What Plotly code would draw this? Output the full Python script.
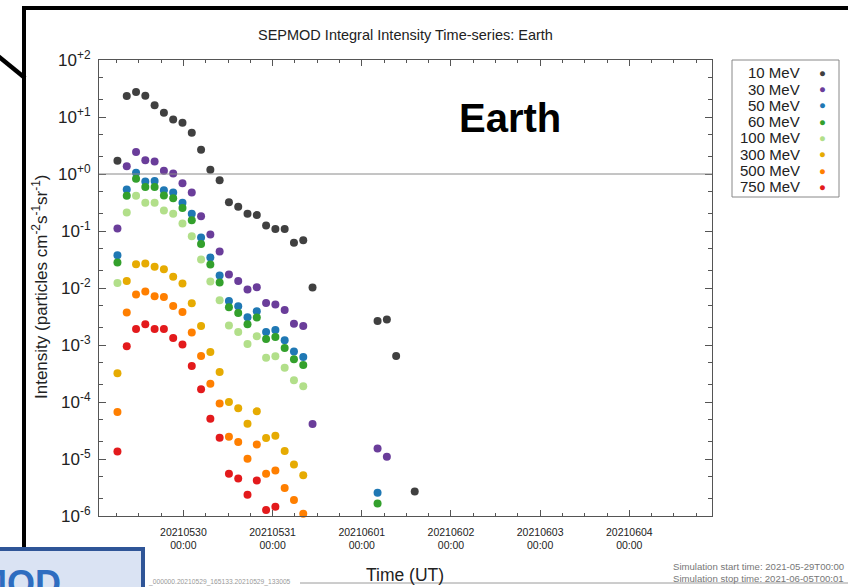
import plotly.graph_objects as go

# ---------------- data ----------------
TIMES = [
    "2021-05-29 06:15", "2021-05-29 08:45", "2021-05-29 11:15", "2021-05-29 13:45",
    "2021-05-29 16:15", "2021-05-29 18:45", "2021-05-29 21:15", "2021-05-29 23:45",
    "2021-05-30 02:15", "2021-05-30 04:45", "2021-05-30 07:15", "2021-05-30 09:45",
    "2021-05-30 12:15", "2021-05-30 14:45", "2021-05-30 17:15", "2021-05-30 19:45",
    "2021-05-30 22:15", "2021-05-31 00:45", "2021-05-31 03:15", "2021-05-31 05:45",
    "2021-05-31 08:15", "2021-05-31 10:45", "2021-05-31 13:15", "2021-05-31 15:45",
    "2021-05-31 18:15", "2021-05-31 20:45", "2021-05-31 23:15", "2021-06-01 01:45",
    "2021-06-01 04:15", "2021-06-01 06:45", "2021-06-01 09:15", "2021-06-01 11:45",
    "2021-06-01 14:15",
]

N = None
E10 = [1.71, 23.3, 27.4, 23.6, 16.0, 11.9, 9.08, 7.93, 5.29, 2.66, 1.19, 0.78, 0.321, 0.265,
       0.200, 0.190, 0.125, 0.108, 0.108, 0.062, 0.069, 0.0102, N, N, N, N, N, N,
       0.00264, 0.00279, 6.43e-4, N, 2.7e-6]
E30 = [0.111, 1.37, 2.42, 1.75, 1.66, 1.14, 1.02, 0.69, 0.474, 0.182, 0.0867, 0.0436, 0.0172,
       0.0133, 0.00938, 0.0103, 0.00547, 0.00511, 0.00412, 0.00237, 0.00216, 4.1e-5,
       N, N, N, N, N, N, 1.53e-5, 1.09e-5, N, N, N]
E50 = [0.0376, 0.535, 1.05, 0.74, 0.75, 0.521, 0.474, 0.312, 0.200, 0.0769, 0.0342, 0.0165,
       0.00593, 0.00478, 0.00307, 0.00391, 0.00169, 0.00184, 0.00121, 7.66e-4, 6.17e-4,
       N, N, N, N, N, N, N, 2.55e-6, N, N, N, N]
E60 = [0.0280, 0.414, 0.824, 0.589, 0.589, 0.420, 0.377, 0.252, 0.155, 0.0594, 0.0258, 0.01245,
       0.00459, 0.00366, 0.00231, 0.00303, 0.00128, 0.00138, 8.87e-4, 5.61e-4, 4.46e-4,
       N, N, N, N, N, N, N, 1.66e-6, N, N, N, N]
E100 = [0.01227, 0.211, 0.414, 0.312, 0.312, 0.229, 0.200, 0.135, 0.0811, 0.0315, 0.0130, 0.00609,
        0.00219, 0.00169, 0.00104, 0.00142, 6.0e-4, 6.33e-4, 4.0e-4, 2.40e-4, 1.88e-4,
        N, N, N, N, N, N, N, N, N, N, N, N]
E300 = [3.18e-4, 0.0133, 0.0261, 0.0268, 0.0235, 0.0213, 0.0157, 0.0120, 0.0054, 0.00216, 7.55e-4,
        3.36e-4, 9.98e-5, 7.73e-5, 4.16e-5, 6.85e-5, 2.33e-5, 2.56e-5, 1.38e-5, 8.0e-6, 5.2e-6,
        N, N, N, N, N, N, N, N, N, N, N, N]
E500 = [6.67e-5, 0.00371, 0.00767, 0.00866, 0.00717, 0.00698, 0.00485, 0.00380, 0.00165, 6.41e-4,
        2.10e-4, 9.45e-5, 2.46e-5, 1.98e-5, 1.01e-5, 1.80e-5, 5.5e-6, 6.3e-6, 3.1e-6, 1.9e-6, 1.09e-6,
        N, N, N, N, N, N, N, N, N, N, N, N]
E750 = [1.36e-5, 9.5e-4, 0.00191, 0.00231, 0.00191, 0.00191, 0.00133, 0.00102, 4.28e-4, 1.67e-4,
        5.1e-5, 2.36e-5, 5.5e-6, 4.56e-6, 2.36e-6, 4.2e-6, 1.27e-6, 1.45e-6,
        N, N, N, N, N, N, N, N, N, N, N, N, N, N, N]

SERIES_NAMES = ["10 MeV", "30 MeV", "50 MeV", "60 MeV", "100 MeV", "300 MeV", "500 MeV", "750 MeV"]
SERIES_VALUES = [E10, E30, E50, E60, E100, E300, E500, E750]
COLORS = ["#404040", "#6a3d9a", "#1f78b4", "#33a02c", "#b2df8a", "#e6ab02", "#ff7f00", "#e31a1c"]

Y_TICKS = [1e-6, 1e-5, 1e-4, 1e-3, 1e-2, 1e-1, 1e0, 1e1, 1e2]
Y_TICKTEXT = ["10<sup>-6</sup>", "10<sup>-5</sup>", "10<sup>-4</sup>", "10<sup>-3</sup>",
              "10<sup>-2</sup>", "10<sup>-1</sup>", "10<sup>+0</sup>", "10<sup>+1</sup>",
              "10<sup>+2</sup>"]

# ---------------- geometry helpers ----------------
W, H = 848, 587
L, R, T, B = 99, 712, 60, 516
FONT = "Liberation Sans, Arial, Helvetica, sans-serif"


def px(x):
    return (x - L) / (R - L)


def py(y):
    return (B - y) / (B - T)


fig = go.Figure()
for name, vals, col in zip(SERIES_NAMES, SERIES_VALUES, COLORS):
    fig.add_trace(go.Scatter(
        x=TIMES, y=vals, mode="markers", name=name,
        marker=dict(size=8, color=col, line=dict(width=0)),
        cliponaxis=False, showlegend=False,
    ))

minor_y = []
for e in range(-6, 2):
    minor_y += [2 * 10 ** e, 5 * 10 ** e]

fig.update_layout(
    width=W, height=H,
    margin=dict(l=L, r=W - R, t=T, b=H - B),
    paper_bgcolor="white", plot_bgcolor="white",
    font=dict(family=FONT, color="#222222"),
    xaxis=dict(
        type="date",
        range=["2021-05-29 01:17", "2021-06-04 22:15"],
        tickmode="linear", tick0="2021-05-30", dtick=86400000,
        tickformat="%Y%m%d<br>%H:%M",
        ticks="inside", ticklen=6, tickcolor="#555", tickwidth=1,
        tickfont=dict(size=10.5, color="#222"),
        ticklabelstandoff=6,
        minor=dict(tickmode="linear", tick0="2021-05-29", dtick=21600000,
                   ticks="inside", ticklen=3, tickcolor="#555"),
        showline=True, linecolor="#555", linewidth=1, mirror="ticks",
        showgrid=False, zeroline=False,
    ),
    yaxis=dict(
        type="log", range=[-6, 2],
        tickmode="array", tickvals=Y_TICKS, ticktext=Y_TICKTEXT,
        ticks="inside", ticklen=7, tickcolor="#555", tickwidth=1,
        tickfont=dict(size=17, color="#222"),
        ticklabelstandoff=4,
        minor=dict(tickmode="array", tickvals=minor_y, ticks="inside", ticklen=4,
                   tickcolor="#555"),
        showline=True, linecolor="#555", linewidth=1, mirror="ticks",
        showgrid=False, zeroline=False,
    ),
)

shapes = []
# reference line at 1
shapes.append(dict(type="line", xref="paper", yref="y", x0=0, x1=1, y0=1, y1=1,
                   line=dict(color="#8a8a8a", width=1)))
# legend box
shapes.append(dict(type="rect", xref="paper", yref="paper",
                   x0=px(732), x1=px(839), y0=py(197), y1=py(60),
                   line=dict(color="#888", width=1), fillcolor="white"))
# slide decorations: black frame lines
shapes.append(dict(type="line", xref="paper", yref="paper", x0=px(22), x1=px(850),
                   y0=py(8), y1=py(8), line=dict(color="black", width=4)))
shapes.append(dict(type="line", xref="paper", yref="paper", x0=px(24), x1=px(24),
                   y0=py(6), y1=py(548), line=dict(color="black", width=4)))
shapes.append(dict(type="line", xref="paper", yref="paper", x0=px(-2), x1=px(25),
                   y0=py(56), y1=py(78), line=dict(color="black", width=4.5)))
# bottom gray line
shapes.append(dict(type="line", xref="paper", yref="paper", x0=px(300), x1=px(850),
                   y0=py(583), y1=py(583), line=dict(color="#9a9a9a", width=1)))
# blue box at bottom left
shapes.append(dict(type="rect", xref="paper", yref="paper", x0=px(-10), x1=px(143),
                   y0=py(600), y1=py(549), line=dict(color="#2f5597", width=4),
                   fillcolor="#dae3f3"))
fig.update_layout(shapes=shapes)

ann = []
# chart title
ann.append(dict(text="SEPMOD Integral Intensity Time-series: Earth", xref="paper", yref="paper",
                x=px(405), y=py(35), xanchor="center", yanchor="middle", showarrow=False,
                font=dict(size=14.5, color="#222")))
# axis titles
ann.append(dict(text="Intensity (particles cm<sup>-2</sup>s<sup>-1</sup>sr<sup>-1</sup>)",
                xref="paper", yref="paper", x=px(40), y=py(287), xanchor="center",
                yanchor="middle", textangle=-90, showarrow=False,
                font=dict(size=17, color="#222")))
ann.append(dict(text="Time (UT)", xref="paper", yref="paper", x=px(405), y=py(575),
                xanchor="center", yanchor="middle", showarrow=False,
                font=dict(size=17.5, color="#222")))
# big Earth label
ann.append(dict(text="<b>Earth</b>", xref="paper", yref="paper", x=px(509.5), y=py(118),
                xanchor="center", yanchor="middle", showarrow=False,
                font=dict(size=40, color="black", family="Liberation Sans, Arial")))
# legend entries
for i, (name, col) in enumerate(zip(SERIES_NAMES, COLORS)):
    yy = 72.7 + i * 16.3
    ann.append(dict(text=name, xref="paper", yref="paper", x=px(802), y=py(yy),
                    xanchor="right", yanchor="middle", showarrow=False,
                    font=dict(size=15, color="#222")))
    ann.append(dict(text="●", xref="paper", yref="paper", x=px(822.5), y=py(yy),
                    xanchor="center", yanchor="middle", showarrow=False,
                    font=dict(size=11.5, color=col)))
# simulation times
ann.append(dict(text="Simulation start time: 2021-05-29T00:00", xref="paper", yref="paper",
                x=px(846), y=py(566), xanchor="right", yanchor="middle", showarrow=False,
                font=dict(size=9.6, color="#777")))
ann.append(dict(text="Simulation stop time: 2021-06-05T00:01", xref="paper", yref="paper",
                x=px(846), y=py(578), xanchor="right", yanchor="middle", showarrow=False,
                font=dict(size=9.6, color="#777")))
# tiny file id text
ann.append(dict(text="_000000.20210529_165133.20210529_133005", xref="paper", yref="paper",
                x=px(146), y=py(582), xanchor="left", yanchor="middle", showarrow=False,
                font=dict(size=6.7, color="#999")))
# partial slide label
ann.append(dict(text="<b>SEPMOD</b>", xref="paper", yref="paper", x=px(63), y=py(561),
                xanchor="right", yanchor="top", showarrow=False,
                font=dict(size=36, color="#2e6dc0", family="Liberation Sans, Arial")))
fig.update_layout(annotations=ann)

fig.write_html("out.html", config={"displayModeBar": False},
               post_script="document.body.style.margin='0px';document.body.style.overflow='hidden';")
